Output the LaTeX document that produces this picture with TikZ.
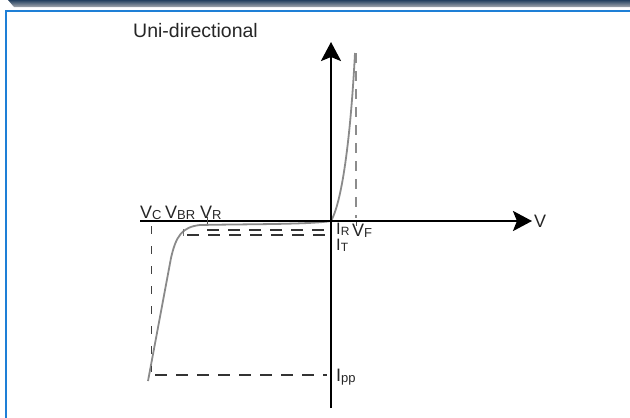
\documentclass[tikz,border=0pt]{standalone}
\usepackage{fontspec}
\setmainfont{Liberation Sans}
\usetikzlibrary{arrows.meta}
\definecolor{frameblue}{HTML}{1E7FD6}
\definecolor{barnavy}{HTML}{24405F}
\definecolor{bargray}{HTML}{A3A8AE}
\definecolor{curvegray}{HTML}{8A8A8A}
\tikzset{
  axisline/.style={line width=2.6pt, -{Stealth[length=19pt,width=20pt,inset=4pt]}},
  curveline/.style={line width=1.8pt, curvegray, line join=round},
  dashlong/.style={line width=1.5pt, black!80, dash pattern=on 12pt off 9pt},
  dashvert/.style={line width=1pt, black!75, dash pattern=on 8pt off 12pt},
  dashvertr/.style={line width=1.2pt, black!45, dash pattern=on 10pt off 8pt},
  ticks/.style={line width=1pt, black!70},
  lbl/.style={inner sep=0pt, font=\fontsize{18}{18}\selectfont, text=black!85},
  lbls/.style={inner sep=0pt, font=\fontsize{16.5}{16.5}\selectfont, text=black!85},
}
\newcommand{\sbs}[1]{\raisebox{-1.5pt}{\fontsize{13}{13}\selectfont #1}}
\newcommand{\sbt}[1]{\raisebox{-1pt}{\fontsize{12}{12}\selectfont #1}}
\begin{document}
\begin{tikzpicture}[x=1pt,y=-1pt]
\useasboundingbox (0,0) rectangle (630,418);
% header bar and frame
\shade[top color=barnavy, bottom color=bargray] (8,0) -- (630,0) -- (630,7) -- (14,7) -- cycle;
\draw[frameblue, line width=2.2pt] (6,418) -- (6,11) -- (630,11);
% title
\node[anchor=base west, inner sep=0pt, font=\fontsize{19.5}{19.5}\selectfont, text=black!85] (title) at (133,37) {Uni-directional};
% coordinates
\coordinate (O) at (331,221);
\coordinate (xl) at (140,221);
\coordinate (xr) at (532,221);
\coordinate (yb) at (331,408);
\coordinate (yt) at (331,42);
\coordinate (ctop) at (355,53);
\coordinate (cbot) at (148,381);
% characteristic curve (drawn first so the axis lies over it)
\draw[curveline] (cbot) -- (171,258) .. controls (176,236) and (182,227) .. (200,225)
  .. controls (250,224) and (310,224.5) .. (O)
  .. controls (343,200) and (351,130) .. (ctop);
% axes
\draw[axisline] (xl) -- (xr);
\draw[axisline] (yb) -- (yt);
% dashed guides
\draw[dashvertr] (356,53) -- (356,218);
\draw[dashvert] (151,226) -- (151,372);
\draw[dashlong] (155,375) -- (327,375);
\draw[dashlong] (207,230) -- (327,230);
\draw[dashlong] (187,235) -- (327,235);
% ticks
\draw[ticks, black!55] (183,229) -- (183,236);
\draw[ticks] (207,217) -- (207,224);
\draw[ticks] (356,222) -- (356,226);
% labels
\node[lbl, anchor=base west] (vc) at (140,218) {V\sbs{C}};
\node[lbl, anchor=base west] (vbr) at (165,218) {V\sbs{BR}};
\node[lbl, anchor=base west] (vr) at (200,218) {V\sbs{R}};
\node[lbl, anchor=base west] (v) at (534,227) {V};
\node[lbls, anchor=base west] (ir) at (336,234) {I\sbt{R}};
\node[lbl, anchor=base west] (vf) at (352,236) {V\sbs{F}};
\node[lbls, anchor=base west] (it) at (336,250) {I\sbt{T}};
\node[lbl, anchor=base west] (ipp) at (336,381) {I\sbs{pp}};
\end{tikzpicture}
\end{document}
